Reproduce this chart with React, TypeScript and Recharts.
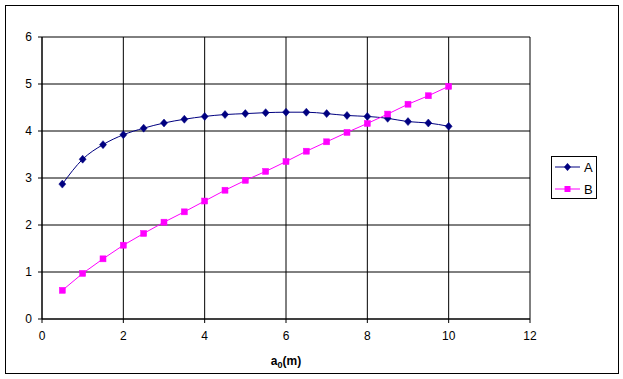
import React from 'react';
import { LineChart, Line, XAxis, YAxis, CartesianGrid, Label } from 'recharts';

const xValues = [0.5, 1, 1.5, 2, 2.5, 3, 3.5, 4, 4.5, 5, 5.5, 6, 6.5, 7, 7.5, 8, 8.5, 9, 9.5, 10];
const seriesA = [2.87, 3.4, 3.71, 3.92, 4.06, 4.17, 4.25, 4.31, 4.35, 4.37, 4.39, 4.4, 4.4, 4.37, 4.33, 4.31, 4.27, 4.2, 4.17, 4.1];
const seriesB = [0.61, 0.97, 1.28, 1.57, 1.82, 2.06, 2.28, 2.51, 2.74, 2.95, 3.14, 3.35, 3.57, 3.77, 3.97, 4.16, 4.36, 4.57, 4.75, 4.95];
const xTicks = [0, 2, 4, 6, 8, 10, 12];
const yTicks = [0, 1, 2, 3, 4, 5, 6];
const seriesNames = ['A', 'B'];

const data = xValues.map((x, i) => ({ x, A: seriesA[i], B: seriesB[i] }));

const NAVY = '#000080';
const MAGENTA = '#FF00FF';
const FONT = '"Liberation Sans", Arial, sans-serif';

const Diamond = (props: any) => {
  const { cx, cy } = props;
  if (cx == null || cy == null) return null;
  return <path d={`M${cx},${cy - 4}L${cx + 3.5},${cy}L${cx},${cy + 4}L${cx - 3.5},${cy}Z`} fill={NAVY} stroke={NAVY} strokeWidth={0.5} />;
};

const Square = (props: any) => {
  const { cx, cy } = props;
  if (cx == null || cy == null) return null;
  return <rect x={cx - 3} y={cy - 3} width={6} height={6} fill={MAGENTA} stroke={MAGENTA} strokeWidth={0.5} />;
};

const LegendBox = () => (
  <div style={{ position: 'absolute', left: 551, top: 156, width: 46, height: 43, border: '1px solid #000', background: '#fff', boxSizing: 'border-box' }}>
    <svg width={46} height={43} style={{ position: 'absolute', left: -1, top: -1 }}>
      <line x1={4} x2={29} y1={11} y2={11} stroke={NAVY} strokeWidth={1} />
      <path d="M16.5,7L20,11L16.5,15L13,11Z" fill={NAVY} />
      <text x={33} y={15.5} fontFamily={FONT} fontSize={13} fill="#000">{seriesNames[0]}</text>
      <line x1={4} x2={29} y1={33} y2={33} stroke={MAGENTA} strokeWidth={1} />
      <rect x={13.5} y={30} width={6} height={6} fill={MAGENTA} />
      <text x={33} y={38} fontFamily={FONT} fontSize={13} fill="#000">{seriesNames[1]}</text>
    </svg>
  </div>
);

const XLabel = (props: any) => {
  const { viewBox } = props;
  const cx = viewBox.x + viewBox.width / 2;
  return (
    <text x={cx} y={365} textAnchor="middle" fontFamily={FONT} fontSize={12} fontWeight="bold" fill="#000">
      a<tspan fontSize={9} dy={3}>0</tspan><tspan dy={-3}>(m)</tspan>
    </text>
  );
};

export default function App() {
  return (
    <div style={{ position: 'absolute', left: 0, top: 0, width: 623, height: 379, background: '#fff' }}>
      <div style={{ position: 'absolute', left: 5, top: 5, width: 614, height: 369, border: '1px solid #000', boxSizing: 'border-box' }} />
      <div style={{ position: 'absolute', left: 0, top: 0 }}>
        <LineChart width={623} height={379} data={data} margin={{ top: 37, right: 93, bottom: 15, left: 0 }}>
          <CartesianGrid stroke="#000" strokeWidth={1} horizontalValues={yTicks} verticalValues={xTicks} />
          <XAxis
            dataKey="x"
            type="number"
            domain={[0, 12]}
            ticks={xTicks}
            interval={0}
            height={45}
            tickSize={4}
            tickMargin={8}
            stroke="#000"
            tick={{ fill: '#000', fontFamily: FONT, fontSize: 12 }}
            tickLine={{ stroke: '#000' }}
            axisLine={{ stroke: '#000' }}
          >
            <Label content={<XLabel />} />
          </XAxis>
          <YAxis
            type="number"
            domain={[0, 6]}
            ticks={yTicks}
            interval={0}
            width={42}
            tickSize={4}
            tickMargin={6}
            stroke="#000"
            tick={{ fill: '#000', fontFamily: FONT, fontSize: 12 }}
            tickLine={{ stroke: '#000' }}
            axisLine={{ stroke: '#000' }}
          />
          <Line type="monotone" dataKey="A" name={seriesNames[0]} stroke={NAVY} strokeWidth={1} dot={<Diamond />} activeDot={false} isAnimationActive={false} />
          <Line type="linear" dataKey="B" name={seriesNames[1]} stroke={MAGENTA} strokeWidth={1} dot={<Square />} activeDot={false} isAnimationActive={false} />
        </LineChart>
      </div>
      <LegendBox />
    </div>
  );
}
